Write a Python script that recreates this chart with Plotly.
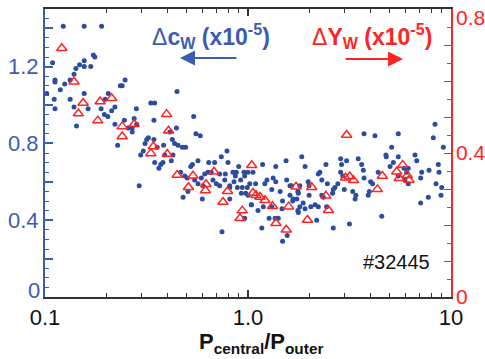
import plotly.graph_objects as go

# Delta c_W (left axis) versus P_central/P_outer
ratio_a = [0.123, 0.156, 0.190, 0.109, 0.173, 0.176, 0.148, 0.156, 0.142, 0.156,
           0.168, 0.139, 0.133, 0.112, 0.112, 0.125, 0.119, 0.248, 0.240, 0.235,
           0.102, 0.156, 0.198, 0.205, 0.111, 0.133, 0.139, 0.163, 0.189, 0.196,
           0.204, 0.213, 0.221, 0.282, 0.332, 0.112, 0.221, 0.246, 0.257, 0.269,
           0.275, 0.283, 0.269, 0.143, 0.347, 0.447, 0.540, 0.344, 0.444, 0.554,
           0.228, 0.311, 0.317, 0.323, 0.305, 0.296, 0.291, 0.412, 0.582, 0.344,
           0.424, 0.435, 0.452, 0.475, 0.493, 0.357, 0.384, 0.389, 0.427, 0.347,
           0.381, 0.372, 0.364, 0.419, 0.567]
dcw_a = [1.41, 1.41, 1.41, 1.22, 1.26, 1.25, 1.21, 1.23, 1.19, 1.20,
         1.20, 1.16, 1.13, 1.13, 1.12, 1.11, 1.08, 1.13, 1.10, 1.10,
         1.06, 1.06, 1.03, 1.06, 1.03, 1.03, 0.99, 0.98, 0.98, 0.95,
         0.94, 0.97, 0.99, 0.98, 1.01, 0.98, 0.90, 0.92, 0.88, 0.88,
         0.93, 0.90, 0.86, 0.89, 1.01, 1.07, 0.94, 0.92, 0.88, 0.85,
         0.79, 0.80, 0.82, 0.83, 0.76, 0.74, 0.58, 0.86, 0.84, 0.82,
         0.82, 0.80, 0.79, 0.78, 0.78, 0.78, 0.79, 0.74, 0.74, 0.70,
         0.70, 0.69, 0.67, 0.71, 0.71]

ratio_b = [0.640, 0.685, 0.739, 0.788, 0.797, 0.532, 0.522, 0.466, 0.488, 0.502,
           0.546, 0.567, 0.589, 0.612, 0.635, 0.659, 0.600, 0.672, 0.698, 0.725,
           0.725, 0.773, 0.768, 0.813, 0.843, 0.876, 0.900, 0.866, 0.956, 0.963,
           0.920, 0.853, 0.813, 0.886, 0.937, 0.992, 1.000, 1.058, 0.927, 0.974,
           1.000, 1.038, 0.813, 0.596, 0.479, 0.506, 0.963, 0.745]
dcw_b = [0.70, 0.70, 0.73, 0.76, 0.70, 0.69, 0.68, 0.65, 0.63, 0.62,
         0.61, 0.59, 0.62, 0.64, 0.65, 0.65, 0.58, 0.61, 0.59, 0.58,
         0.64, 0.64, 0.61, 0.58, 0.65, 0.65, 0.68, 0.63, 0.65, 0.63,
         0.61, 0.60, 0.57, 0.57, 0.57, 0.57, 0.65, 0.65, 0.54, 0.54,
         0.53, 0.48, 0.51, 0.51, 0.52, 0.55, 0.41, 0.34]

ratio_c = [1.84, 1.91, 2.42, 2.86, 3.06, 2.89, 1.18, 1.37, 1.54, 2.26,
           2.22, 2.31, 2.86, 2.93, 2.77, 2.68, 2.63, 2.98, 2.46, 2.31,
           1.98, 2.00, 1.80, 1.76, 1.61, 1.64, 1.55, 1.33, 1.37, 1.24,
           1.21, 1.09, 1.02, 1.31, 1.44, 1.61, 1.66, 1.67, 1.74, 1.80,
           1.87, 2.00, 1.91, 2.04, 2.14, 2.22, 2.35, 2.44, 2.61, 1.48,
           1.47, 1.31, 1.19, 1.04, 1.12, 1.27, 1.36, 1.41, 1.17, 1.56,
           1.48, 1.76, 1.77, 2.18, 2.63, 3.16, 3.37, 1.77]
dcw_c = [0.73, 0.68, 0.69, 0.72, 0.71, 0.69, 0.69, 0.68, 0.71, 0.65,
         0.64, 0.61, 0.65, 0.63, 0.59, 0.57, 0.56, 0.56, 0.59, 0.53,
         0.60, 0.58, 0.58, 0.55, 0.58, 0.58, 0.61, 0.62, 0.60, 0.61,
         0.59, 0.59, 0.59, 0.56, 0.55, 0.53, 0.50, 0.51, 0.51, 0.47,
         0.49, 0.53, 0.46, 0.47, 0.48, 0.47, 0.52, 0.47, 0.54, 0.50,
         0.46, 0.47, 0.47, 0.48, 0.45, 0.41, 0.41, 0.41, 0.36, 0.32,
         0.29, 0.45, 0.44, 0.40, 0.36, 0.38, 0.51, 0.54]

ratio_d = [3.73, 4.22, 5.50, 8.18, 9.17, 5.10, 4.78, 4.80, 5.50, 5.20,
           5.01, 3.49, 3.63, 3.70, 3.73, 4.38, 4.02, 4.11, 3.96, 3.91,
           3.28, 3.40, 6.65, 6.78, 5.87, 6.16, 6.05, 5.93, 6.16, 7.17,
           7.79, 7.09, 8.66, 8.73, 8.44, 9.00, 8.93, 7.73, 7.09, 4.56,
           5.50, 8.34]
dcw_d = [0.85, 0.84, 0.85, 0.83, 0.78, 0.78, 0.74, 0.73, 0.73, 0.70,
         0.68, 0.72, 0.69, 0.66, 0.62, 0.65, 0.60, 0.59, 0.55, 0.53,
         0.55, 0.53, 0.74, 0.71, 0.67, 0.67, 0.65, 0.61, 0.59, 0.65,
         0.66, 0.62, 0.69, 0.65, 0.59, 0.57, 0.53, 0.52, 0.49, 0.42,
         0.63, 0.90]

# Delta Y_W (right axis)
ratio_y = [0.121, 0.139, 0.154, 0.187, 0.213, 0.146, 0.182, 0.240, 0.275, 0.240,
           0.397, 0.406, 0.332, 0.342, 0.400, 0.448, 0.536, 0.509, 0.680, 0.621,
           0.617, 0.793, 0.753, 0.937, 0.913, 1.043, 3.06, 1.058, 1.095, 1.146,
           1.213, 1.320, 1.373, 1.544, 1.586, 1.724, 2.06, 2.42, 2.49, 1.964,
           3.02, 3.17, 3.31, 4.59, 4.34, 5.78, 5.40, 5.56, 6.09, 6.21]
dyw = [0.691, 0.598, 0.539, 0.543, 0.552, 0.510, 0.490, 0.474, 0.480, 0.446,
       0.508, 0.462, 0.399, 0.418, 0.397, 0.339, 0.337, 0.305, 0.348, 0.313,
       0.296, 0.294, 0.264, 0.240, 0.219, 0.366, 0.450, 0.289, 0.283, 0.278,
       0.269, 0.252, 0.205, 0.187, 0.251, 0.306, 0.305, 0.281, 0.241, 0.214,
       0.331, 0.335, 0.324, 0.336, 0.299, 0.367, 0.348, 0.330, 0.338, 0.325]

x_ticks = [0.1, 1, 10]
x_labels = ["0.1", "1.0", "10"]
x_minor = [0.2, 0.3, 0.4, 0.5, 0.6, 0.7, 0.8, 0.9, 2, 3, 4, 5, 6, 7, 8, 9]
left_ticks = [0, 0.2, 0.4, 0.6, 0.8, 1.0, 1.2, 1.4]
left_labels = ["", "", "0.4", "", "0.8", "", "1.2", ""]
right_ticks = [0, 0.1, 0.2, 0.3, 0.4, 0.5, 0.6, 0.7, 0.8]
right_labels = ["0", "", "", "", "0.4", "", "", "", ""]

BLUE = "#2c4c9f"
BLUE_TXT = "#3c5cb0"
RED = "#ff2424"
DARK = "#333333"
FONT = "Liberation Sans, Arial, sans-serif"

fig = go.Figure()
fig.add_trace(go.Scatter(
    x=ratio_a + ratio_b + ratio_c + ratio_d,
    y=dcw_a + dcw_b + dcw_c + dcw_d,
    mode="markers",
    marker=dict(symbol="circle", size=5, color=BLUE),
    showlegend=False,
))
fig.add_trace(go.Scatter(
    x=ratio_y, y=dyw, yaxis="y2",
    mode="markers",
    marker=dict(symbol="triangle-up-open", size=9, color=RED, line=dict(width=1.5, color=RED)),
    showlegend=False,
))

fig.update_layout(
    width=485, height=359,
    margin=dict(l=45, r=34, t=9, b=62),
    paper_bgcolor="white", plot_bgcolor="white",
    font=dict(family=FONT),
    xaxis=dict(
        type="log", range=[-1, 1], automargin=False,
        tickvals=x_ticks, ticktext=x_labels,
        ticks="inside", ticklen=7, tickwidth=1.5, tickcolor=DARK,
        minor=dict(tickvals=x_minor, ticks="inside", ticklen=4, tickwidth=1.2, tickcolor=DARK),
        showline=True, linecolor=DARK, linewidth=2, mirror="ticks",
        showgrid=False, zeroline=False,
        tickfont=dict(size=22, color="#111111"),
    ),
    yaxis=dict(
        range=[0, 1.5], automargin=False,
        tickvals=left_ticks, ticktext=left_labels,
        ticks="inside", ticklen=8, tickwidth=1.5, tickcolor=BLUE_TXT,
        minor=dict(dtick=0.05, ticks="inside", ticklen=4, tickwidth=1, tickcolor=BLUE_TXT),
        showline=True, linecolor=BLUE_TXT, linewidth=2,
        showgrid=False, zeroline=False,
        tickfont=dict(size=22, color=BLUE_TXT),
    ),
    yaxis2=dict(
        overlaying="y", side="right", range=[0, 0.8001], automargin=False,
        tickvals=right_ticks, ticktext=right_labels,
        ticks="inside", ticklen=7, tickwidth=1.2, tickcolor=RED,
        minor=dict(dtick=0.05, ticks="inside", ticklen=4, tickwidth=1, tickcolor=RED),
        showline=True, linecolor=RED, linewidth=1.5,
        showgrid=False, zeroline=False,
        ticklabeloverflow="allow", ticklabelstandoff=-1,
        tickfont=dict(size=21, color=RED),
    ),
)

# end labels of the two value axes, nudged inside the page
fig.add_annotation(
    xref="paper", yref="paper", x=0, y=0.021, xanchor="right", yanchor="middle", xshift=-3,
    text="0", showarrow=False, font=dict(size=22, color=BLUE_TXT),
)
fig.add_annotation(
    xref="paper", yref="paper", x=1, y=0.972, xanchor="left", yanchor="middle", xshift=3,
    text="0.8", showarrow=False, font=dict(size=21, color=RED),
)

# axis title
fig.add_annotation(
    xref="paper", yref="paper", x=0.533, y=-0.105, xanchor="center", yanchor="top",
    text="<b>P<sub>central</sub>/P<sub>outer</sub></b>",
    showarrow=False, font=dict(size=22, color="#111111"),
)

# series labels with direction arrows
fig.add_annotation(
    xref="paper", yref="paper", x=0.409, y=0.905, xanchor="center", yanchor="middle",
    text="\u0394<b>c<sub>W</sub> (x10<sup>-5</sup>)</b>",
    showarrow=False, font=dict(size=23, color=BLUE_TXT),
)
fig.add_annotation(
    xref="paper", yref="paper", x=0.805, y=0.905, xanchor="center", yanchor="middle",
    text="\u0394<b>Y<sub>W</sub> (x10<sup>-5</sup>)</b>",
    showarrow=False, font=dict(size=23, color=RED),
)
fig.add_annotation(
    xref="paper", yref="paper", x=0.3325, y=0.830, ax=58, ay=0,
    text="", showarrow=True, arrowhead=2, arrowsize=1.5, arrowwidth=2, arrowcolor=BLUE_TXT,
)
fig.add_annotation(
    xref="paper", yref="paper", x=0.882, y=0.826, ax=-59, ay=0,
    text="", showarrow=True, arrowhead=2, arrowsize=1.5, arrowwidth=2, arrowcolor=RED,
)

fig.add_annotation(
    xref="paper", yref="paper", x=0.865, y=0.122, xanchor="center", yanchor="middle",
    text="#32445", showarrow=False, font=dict(size=20, color="#111111"),
)

fig.write_html("out.html")
